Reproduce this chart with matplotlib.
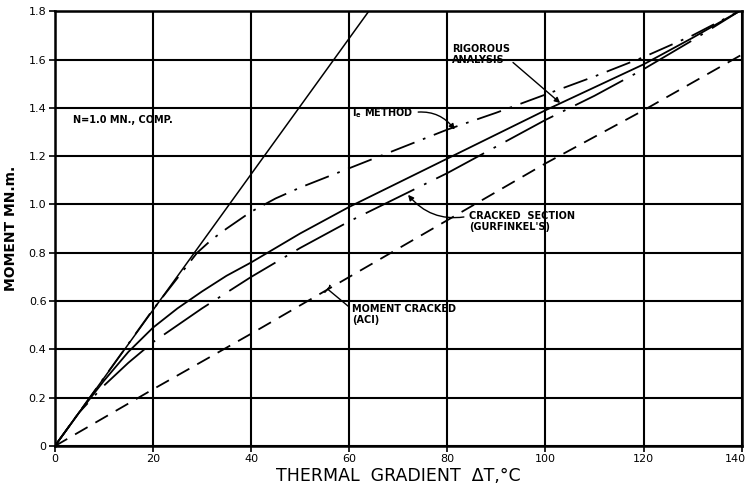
import numpy as np
import matplotlib
matplotlib.use('Agg')
import matplotlib.pyplot as plt
from matplotlib.transforms import ScaledTranslation

# Thermal gradient (deg C) and moment (MN.m)
dt_steep = [0, 64]
m_steep = [0, 1.8]

dt_ie = [0, 10, 20, 29, 32, 35, 40, 45, 50, 60, 70, 80, 90, 100, 110, 120, 130, 139.5]
m_ie = [0, 0.282, 0.565, 0.80, 0.855, 0.90, 0.97, 1.025, 1.07, 1.15, 1.23, 1.31, 1.38, 1.455, 1.53, 1.61, 1.70, 1.80]

dt_rig = [0, 5, 10, 15, 20, 25, 30, 35, 40, 45, 50, 60, 70, 80, 90, 100, 110, 120, 130, 139.5]
m_rig = [0, 0.14, 0.27, 0.39, 0.49, 0.57, 0.64, 0.705, 0.76, 0.82, 0.88, 0.99, 1.09, 1.19, 1.29, 1.39, 1.485, 1.58, 1.69, 1.80]

dt_gur = [0, 5, 10, 15, 20, 25, 30, 35, 40, 45, 50, 60, 70, 80, 90, 100, 110, 120, 130, 139.5]
m_gur = [0, 0.14, 0.25, 0.345, 0.43, 0.50, 0.57, 0.635, 0.70, 0.76, 0.82, 0.93, 1.03, 1.13, 1.24, 1.35, 1.45, 1.56, 1.68, 1.80]

dt_aci = [0, 20, 40, 60, 80, 100, 120, 140]
m_aci = [0, 0.235, 0.465, 0.70, 0.935, 1.17, 1.39, 1.62]

x_ticks = [0, 20, 40, 60, 80, 100, 120, 140]
y_ticks = [0, 0.2, 0.4, 0.6, 0.8, 1.0, 1.2, 1.4, 1.6, 1.8]
y_labels = ['0', '0.2', '0.4', '0.6', '0.8', '1.0', '1.2', '1.4', '1.6', '1.8']

fig = plt.figure(figsize=(7.5, 4.86), dpi=100)
ax = fig.add_axes([0.073, 0.082, 0.916, 0.895])

ax.plot(dt_steep, m_steep, color='black', lw=1.1)
ax.plot(dt_ie, m_ie, color='black', lw=1.3, dashes=[14, 5, 1.5, 5])
ax.plot(dt_rig, m_rig, color='black', lw=1.3)
ax.plot(dt_gur, m_gur, color='black', lw=1.3, dashes=[30, 6, 1.5, 6])
ax.plot(dt_aci, m_aci, color='black', lw=1.3, dashes=[8, 5])

ax.set_xlim(0, 140)
ax.set_ylim(0, 1.8)
ax.set_xticks(x_ticks)
ax.set_yticks(y_ticks)
ax.set_yticklabels(y_labels)
ax.grid(True, color='black', lw=1.5)
for s in ax.spines.values():
    s.set_linewidth(1.8)
ax.tick_params(direction='out', length=4, width=1.2, labelsize=8, pad=2)

# keep the last x label inside the picture
last = ax.get_xticklabels()[-1]
last.set_transform(last.get_transform() + ScaledTranslation(-6 / 100, 0, fig.dpi_scale_trans))

ax.set_xlabel('THERMAL  GRADIENT  \u0394T,\u00b0C', fontsize=12.5, labelpad=2)
ax.set_ylabel('MOMENT MN.m.', fontsize=10, fontweight='bold', labelpad=8)

# annotations
ax.text(3.7, 1.35, 'N=1.0 MN., COMP.', fontsize=7, fontweight='bold', va='center')

ax.annotate('RIGOROUS\nANALYSIS', xy=(103, 1.42), xytext=(81, 1.62),
            fontsize=7, fontweight='bold', va='center', ha='left', linespacing=1.2,
            arrowprops=dict(arrowstyle='-|>', color='black', lw=1,
                            shrinkA=0, shrinkB=0, mutation_scale=8,
                            relpos=(1, 0.25)))

ax.annotate('$\\mathbf{I_e}$ METHOD', xy=(81.5, 1.31), xytext=(60.5, 1.38),
            fontsize=7, fontweight='bold', va='center', ha='left',
            arrowprops=dict(arrowstyle='-|>', color='black', lw=1,
                            shrinkA=2, shrinkB=0, mutation_scale=8,
                            connectionstyle='arc3,rad=-0.3', relpos=(1, 0.5)))

ax.annotate('CRACKED  SECTION\n(GURFINKEL\'S)', xy=(72, 1.04), xytext=(84.5, 0.93),
            fontsize=7, fontweight='bold', va='center', ha='left', linespacing=1.2,
            arrowprops=dict(arrowstyle='-|>', color='black', lw=1,
                            shrinkA=2, shrinkB=0, mutation_scale=8,
                            connectionstyle='arc3,rad=-0.3', relpos=(0, 0.75)))

ax.annotate('MOMENT CRACKED\n(ACI)', xy=(55.6, 0.65), xytext=(60.5, 0.545),
            fontsize=7, fontweight='bold', va='center', ha='left', linespacing=1.2,
            arrowprops=dict(arrowstyle='-[', color='black', lw=1,
                            shrinkA=0, shrinkB=0, mutation_scale=3,
                            relpos=(0, 0.75)))

plt.savefig('out.png', dpi=100)
